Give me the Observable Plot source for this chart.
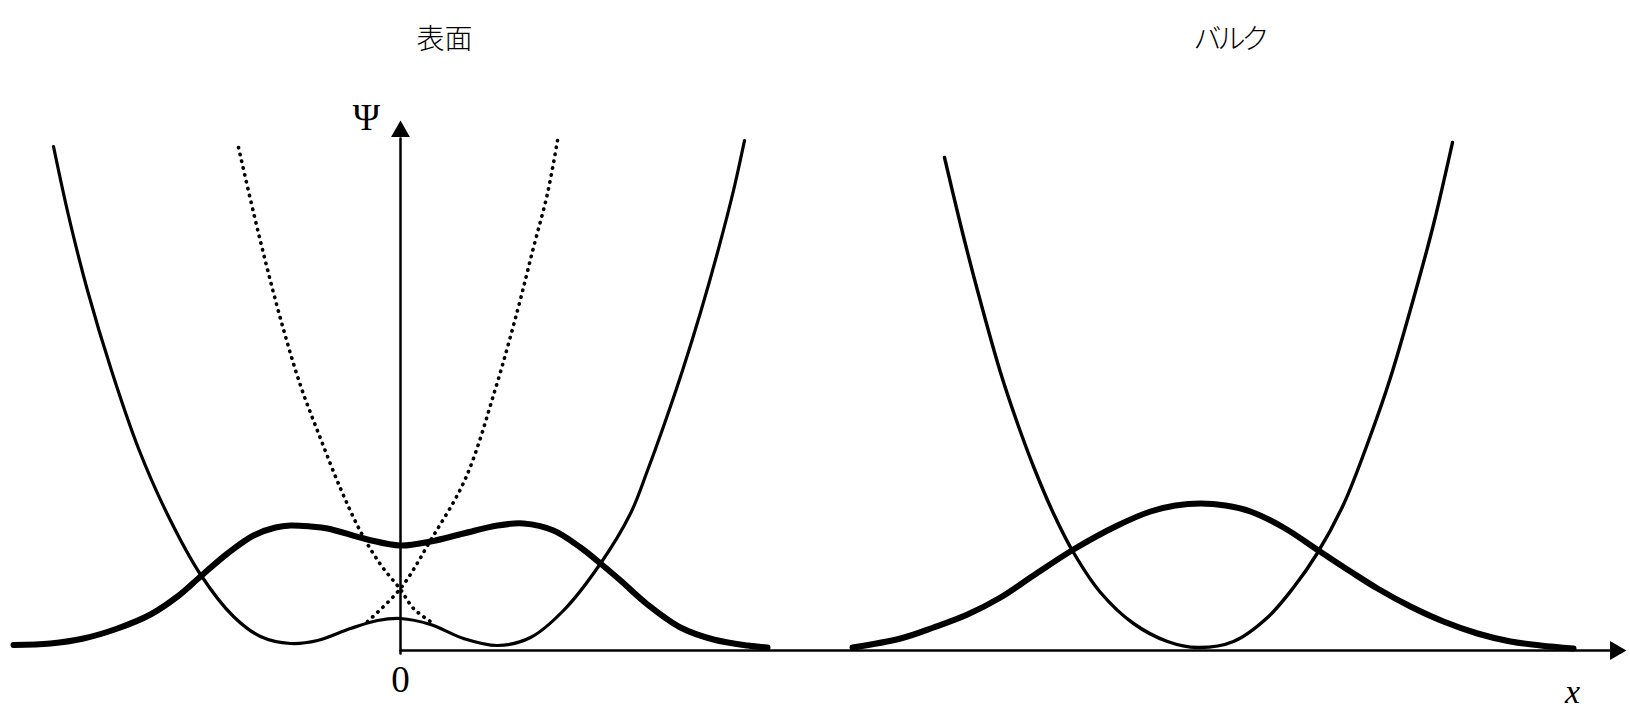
<!DOCTYPE html>
<html><head><meta charset="utf-8">
<script src="https://cdn.jsdelivr.net/npm/d3@7"></script>
<script src="https://cdn.jsdelivr.net/npm/@observablehq/plot@0.6"></script>
<style>
html,body{margin:0;padding:0;background:#fff;}
#chart svg{display:block;}
</style>
</head><body><div id="chart"></div>
<script>
// ---- Surface (表面) panel ----
// thin solid double-well potential
const surfPotX = [-3.47,-3.32,-3.13,-2.89,-2.62,-2.33,-2.00,-1.67,-1.40,-1.10,-0.83,-0.50,-0.23,0.00,0.30,0.63,0.97,1.30,1.63,2.00,2.30,2.47,2.63,2.82,3.00,3.17,3.33,3.44];
const surfPotY = [5.04,4.35,3.60,2.80,2.02,1.36,0.76,0.34,0.14,0.07,0.10,0.22,0.30,0.32,0.26,0.12,0.05,0.13,0.40,0.87,1.37,1.80,2.24,2.80,3.38,3.98,4.60,5.10];
// dotted: continuation of right well (descending branch)
const dotRightWellX = [-1.62,-1.47,-1.33,-1.17,-1.00,-0.80,-0.60,-0.40,-0.20,0.00,0.13,0.30];
const dotRightWellY = [5.03,4.38,3.81,3.21,2.65,2.12,1.62,1.19,0.86,0.61,0.42,0.29];
// dotted: continuation of left well (rising branch)
const dotLeftWellX = [-0.33,0.00,0.30,0.65,0.95,1.17,1.33,1.47,1.57];
const dotLeftWellY = [0.29,0.62,1.10,1.72,2.62,3.40,4.03,4.57,5.10];
// thick surface wavefunction
const surfPsiX = [-3.87,-3.50,-3.17,-2.83,-2.50,-2.23,-2.00,-1.73,-1.47,-1.25,-1.10,-0.90,-0.73,-0.33,0.00,0.30,0.63,0.97,1.23,1.53,1.80,2.00,2.20,2.47,2.80,3.13,3.47,3.67];
const surfPsiY = [0.055,0.07,0.12,0.22,0.36,0.54,0.74,0.97,1.15,1.23,1.25,1.24,1.22,1.11,1.05,1.09,1.17,1.25,1.27,1.20,1.03,0.87,0.70,0.46,0.23,0.11,0.05,0.03];

// ---- Bulk (バルク) panel ----
const bulkPotX = [5.44,5.60,5.77,6.00,6.17,6.33,6.53,6.73,7.00,7.33,7.67,7.97,8.33,8.67,8.93,9.16,9.43,9.70,9.90,10.20,10.34,10.52];
const bulkPotY = [4.93,4.26,3.60,2.78,2.27,1.84,1.37,0.98,0.58,0.27,0.09,0.03,0.09,0.33,0.63,0.96,1.46,2.15,2.73,3.77,4.30,5.08];
const bulkPsiX = [4.52,5.00,5.33,5.67,6.00,6.33,6.73,7.17,7.50,7.75,8.00,8.25,8.50,8.83,9.18,9.50,9.77,10.10,10.43,10.77,11.10,11.40,11.73];
const bulkPsiY = [0.03,0.12,0.23,0.36,0.53,0.75,1.01,1.25,1.39,1.45,1.47,1.45,1.39,1.23,1.00,0.79,0.62,0.44,0.29,0.17,0.09,0.05,0.02];

// ---- axes (Ψ vertical axis at x = 0, x axis along Ψ = 0) ----
const xAxisX = [0, 12.12];
const xAxisY = [0, 0];
const yAxisX = [0, 0];
const yAxisY = [-0.03, 5.12];
const arrowX = [12.15, 0];
const arrowY = [0, 5.19];
const arrowRotate = [90, 0];

// ---- text ----
const panelTitles = ["表面", "バルク"];
const panelTitleX = [0.44, 8.29];
const panelTitleY = [6.10, 6.10];
const axisLabels = ["Ψ", "0"];
const axisLabelX = [-0.34, 0];
const axisLabelY = [5.32, -0.30];
const xLabel = ["x"];
const xLabelX = [11.72];
const xLabelY = [-0.42];

const rows = (xs, ys) => xs.map((x, i) => ({x, y: ys[i]}));

const chart = Plot.plot({
  width: 1630,
  height: 709,
  margin: 0,
  style: {background: "#fff"},
  x: {domain: [-4.0, 12.3], axis: null},
  y: {domain: [-0.59, 6.50], axis: null},
  marks: [
    // axes
    Plot.line(rows(xAxisX, xAxisY), {x: "x", y: "y", stroke: "#000", strokeWidth: 2.5}),
    Plot.line(rows(yAxisX, yAxisY), {x: "x", y: "y", stroke: "#000", strokeWidth: 2.5}),
    Plot.dot(arrowX.map((x, i) => ({x, y: arrowY[i], r: arrowRotate[i]})),
      {x: "x", y: "y", rotate: "r", symbol: "triangle", r: 7, fill: "#000", stroke: "none"}),
    // dotted parabolas
    Plot.line(rows(dotRightWellX, dotRightWellY), {x: "x", y: "y", curve: "catmull-rom",
      stroke: "#000", strokeWidth: 3.6, strokeLinecap: "round", strokeDasharray: "0.4,6.6"}),
    Plot.line(rows(dotLeftWellX, dotLeftWellY), {x: "x", y: "y", curve: "catmull-rom",
      stroke: "#000", strokeWidth: 3.6, strokeLinecap: "round", strokeDasharray: "0.4,6.6"}),
    // potentials
    Plot.line(rows(surfPotX, surfPotY), {x: "x", y: "y", curve: "catmull-rom",
      stroke: "#000", strokeWidth: 3.2}),
    Plot.line(rows(bulkPotX, bulkPotY), {x: "x", y: "y", curve: "catmull-rom",
      stroke: "#000", strokeWidth: 3.4}),
    // wavefunctions
    Plot.line(rows(surfPsiX, surfPsiY), {x: "x", y: "y", curve: "catmull-rom",
      stroke: "#000", strokeWidth: 6}),
    Plot.line(rows(bulkPsiX, bulkPsiY), {x: "x", y: "y", curve: "catmull-rom",
      stroke: "#000", strokeWidth: 6}),
    // texts
    Plot.text(panelTitles.map((t, i) => ({t, x: panelTitleX[i], y: panelTitleY[i]})),
      {x: "x", y: "y", text: "t", fontSize: 28, fill: "#000",
       fontFamily: "'Noto Sans CJK JP', sans-serif", fontWeight: 300}),
    Plot.text(axisLabels.map((t, i) => ({t, x: axisLabelX[i], y: axisLabelY[i]})),
      {x: "x", y: "y", text: "t", fontSize: 37, fill: "#000",
       fontFamily: "'Liberation Serif', 'DejaVu Serif', serif"}),
    Plot.text(xLabel.map((t, i) => ({t, x: xLabelX[i], y: xLabelY[i]})),
      {x: "x", y: "y", text: "t", fontSize: 34, fill: "#000", fontStyle: "italic",
       fontFamily: "'Liberation Serif', 'DejaVu Serif', serif"})
  ]
});
// katakana title set a little tighter, as in the reference typesetting
d3.select(chart).selectAll("text").each(function() {
  if (this.textContent === "バルク") this.setAttribute("letter-spacing", "-4");
});
document.getElementById("chart").appendChild(chart);
</script>
</body></html>
